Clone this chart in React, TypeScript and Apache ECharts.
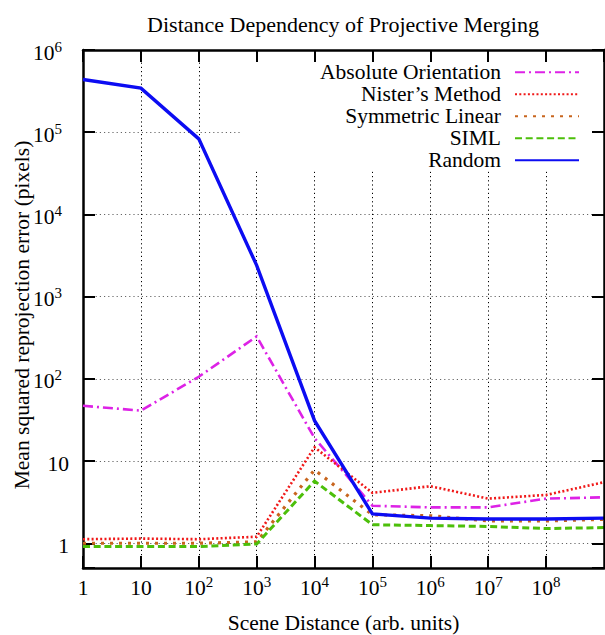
import React, { useEffect, useRef } from "react";
import * as echarts from "echarts";

const sceneDistance = [1, 10, 1e2, 1e3, 1e4, 1e5, 1e6, 1e7, 1e8, 1e9];
const absoluteOrientation = [47, 41, 106, 328, 19, 2.86, 2.73, 2.73, 3.49, 3.62];
const nistersMethod = [1.12, 1.14, 1.12, 1.2, 14.7, 4.1, 4.94, 3.49, 3.87, 5.53];
const symmetricLinear = [1.0, 1.0, 1.0, 1.04, 7.8, 2.22, 2.16, 1.87, 1.87, 1.95];
const siml = [0.91, 0.91, 0.91, 0.98, 5.7, 1.68, 1.64, 1.6, 1.51, 1.55];
const random = [437000, 344000, 83000, 2400, 31, 2.27, 2.02, 1.97, 1.97, 2.02];

const seriesNames = ["Absolute Orientation", "Nister\u2019s Method", "Symmetric Linear", "SIML", "Random"];
const seriesValues = [absoluteOrientation, nistersMethod, symmetricLinear, siml, random];
const seriesColors = ["#dd22e6", "#f01818", "#c8651e", "#4cbf0a", "#0c0cf2"];
const seriesWidths = [2.6, 2.6, 3.2, 3, 3.4];
const seriesDash: (number[] | string)[] = [[10, 4, 2, 4], [2, 2.3], [3, 6], [7, 3.7], "solid"];

const FONT = "Liberation Serif";
const FS = 21.5;

function expOf(v: number): number | null {
  const e = Math.log10(v);
  const r = Math.round(e);
  if (Math.abs(e - r) > 1e-6) return null;
  return r;
}

function labelFmt(maxExp: number, supStyle: string) {
  return (v: number) => {
    const e = expOf(v);
    if (e === null || e < 0 || e >= maxExp) return "";
    if (e === 0) return "{b|1}";
    if (e === 1) return "{b|10}";
    return `{b|10}{${supStyle}|${e}}`;
  };
}

const richBase = {
  b: { fontFamily: FONT, fontSize: FS, lineHeight: 22, color: "#000", padding: [5, 0, 0, 0] },
  s: { fontFamily: FONT, fontSize: 15, lineHeight: 17, color: "#000", verticalAlign: "top" },
  sy: { fontFamily: FONT, fontSize: 15, lineHeight: 17, color: "#000", verticalAlign: "top", padding: [0, 7, 0, 0] },
};

export default function App() {
  const ref = useRef<HTMLDivElement>(null);
  useEffect(() => {
    document.body.style.margin = "0";
    if (!ref.current) return;
    const chart = echarts.init(ref.current, undefined, { renderer: "svg" });
    const axisLine = { show: true, lineStyle: { color: "#000", width: 2.5 } };
    const axisTick = { show: true, inside: true, length: 12, lineStyle: { color: "#000", width: 2 } };
    chart.setOption({
      animation: false,
      backgroundColor: "#fff",
      title: {
        text: "Distance Dependency of Projective Merging",
        left: 343,
        top: 13,
        textAlign: "center",
        padding: 0,
        textStyle: { fontFamily: FONT, fontSize: 22, fontWeight: "normal", color: "#000" },
      },
      grid: { left: 83, right: 1, top: 50, bottom: 67, containLabel: false, outerBoundsMode: "none" },
      legend: {
        orient: "vertical",
        align: "right",
        right: 1,
        top: 50,
        padding: [11.3, 24, 0, 80],
        backgroundColor: "#fff",
        itemWidth: 64,
        itemHeight: 10,
        itemGap: 0,
        z: 4,
        data: seriesNames,
        itemStyle: { opacity: 0, color: "rgba(0,0,0,0)", borderColor: "rgba(0,0,0,0)", borderWidth: 0 },
        textStyle: { fontFamily: FONT, fontSize: FS, color: "#000", padding: [0, 9, 0, 0] },
      },
      xAxis: [
        {
          type: "log",
          logBase: 10,
          min: 1,
          max: 1e9,
          name: "Scene Distance (arb. units)",
          nameLocation: "middle",
          nameGap: 44,
          nameMoveOverlap: false,
          nameTextStyle: { fontFamily: FONT, fontSize: FS, color: "#000" },
          axisLine,
          axisTick,
          minorTick: { show: false },
          axisLabel: { margin: 6.5, formatter: labelFmt(9, "s"), rich: richBase, showMaxLabel: false },
          splitLine: { show: true, lineStyle: { color: "#000", width: 1, type: [1.2, 3] } },
          z: 0,
        },
        {
          type: "log",
          logBase: 10,
          min: 1,
          max: 1e9,
          position: "top",
          axisLine,
          axisTick,
          axisLabel: { show: false },
          splitLine: { show: false },
          z: 6,
        },
      ],
      yAxis: [
        {
          type: "log",
          logBase: 10,
          min: 0.5,
          max: 1e6,
          name: "Mean squared reprojection error (pixels)",
          nameLocation: "middle",
          nameGap: 50,
          nameMoveOverlap: false,
          nameTextStyle: { fontFamily: FONT, fontSize: FS, color: "#000", padding: [0, 12, 0, 0] },
          axisLine,
          axisTick,
          axisLabel: { margin: 14, formatter: labelFmt(7, "sy"), rich: richBase },
          splitLine: { show: true, lineStyle: { color: "#666", width: 1, type: [1.2, 3] } },
          z: 0,
        },
        {
          type: "log",
          logBase: 10,
          min: 0.5,
          max: 1e6,
          position: "right",
          axisLine,
          axisTick,
          axisLabel: { show: false },
          splitLine: { show: false },
          z: 6,
        },
      ],
      series: seriesNames.map((name, i) => ({
        name,
        type: "line",
        xAxisIndex: 0,
        yAxisIndex: 0,
        symbol: "none",
        showSymbol: false,
        z: 2 + i * 0.01,
        data: sceneDistance.map((x, j) => [x, seriesValues[i][j]]),
        lineStyle: {
          color: seriesColors[i],
          width: seriesWidths[i],
          type: seriesDash[i],
          cap: "butt",
          join: "miter",
        },
        itemStyle: { color: seriesColors[i] },
      })),
    });
    return () => chart.dispose();
  }, []);
  return <div ref={ref} style={{ width: 605, height: 635 }} />;
}
